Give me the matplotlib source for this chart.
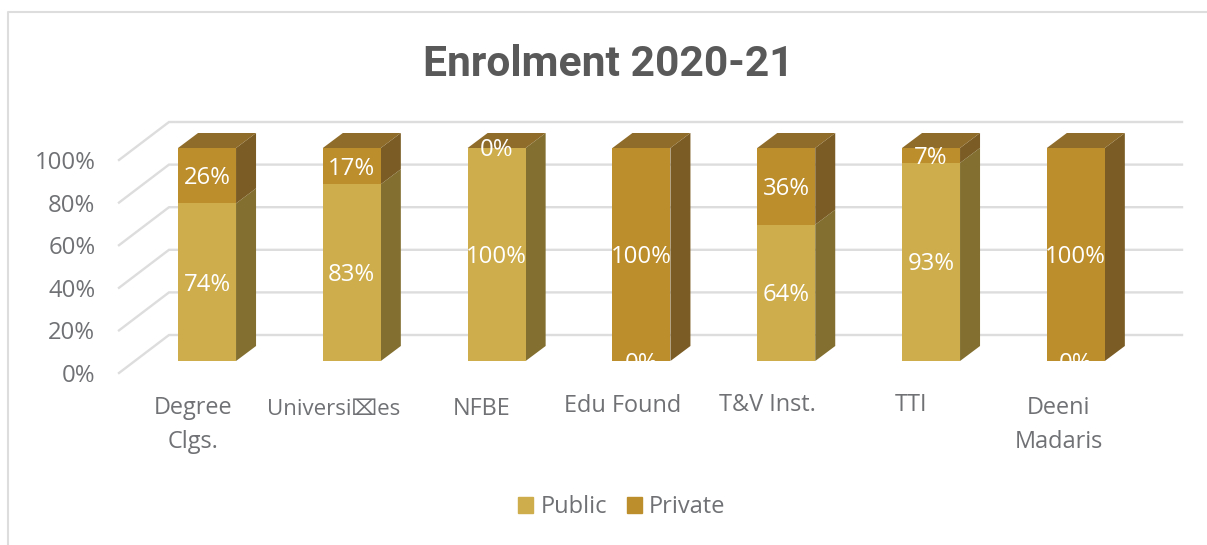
import matplotlib
matplotlib.use("Agg")
import matplotlib.pyplot as plt
from matplotlib.lines import Line2D
from matplotlib.patches import Patch, Rectangle

categories = ['Degree\nClgs.', 'Universi\u2327es', 'NFBE', 'Edu Found', 'T&V Inst.', 'TTI', 'Deeni\nMadaris']
public = [74, 83, 100, 0, 64, 93, 0]
private = [26, 17, 0, 100, 36, 7, 100]
ticks = [0, 20, 40, 60, 80, 100]
tick_labels = ['0%', '20%', '40%', '60%', '80%', '100%']

col_public = '#CDAD4C'
col_private = '#BC8E2C'
side_public = '#837030'
side_private = '#7A5C24'
top_col = '#8F6C2A'
grid_col = '#DDDDDD'
text_col = '#6F7174'

W, H = 1207, 545
plt.rcParams['font.family'] = ['Open Sans', 'DejaVu Sans']

fig = plt.figure(figsize=(W / 100, H / 100), dpi=100)
ax = fig.add_axes([119 / W, (H - 373) / H, 1013.6 / W, 213 / H])
ax.set_xlim(-0.608, 6.392)
ax.set_ylim(0, 100)
for s in ax.spines.values():
    s.set_visible(False)

# one category = 144.8 px, one percent = 2.13 px
px_x = 1 / 144.8
px_y = 1 / 2.13

# outer frame
fig.add_artist(Line2D([8 / W, 8 / W, 1], [0, 1 - 12 / H, 1 - 12 / H], color=grid_col, lw=1.5))

# gridlines on the floor and back wall
xl = ax.get_xlim()[0]
for t in ticks:
    ax.plot([xl, xl + 50 * px_x, xl + 1063 * px_x], [t, t + 38 * px_y, t + 38 * px_y],
            color=grid_col, lw=1.7, clip_on=False, zorder=1, solid_joinstyle='miter')

bar_w = 58 * px_x
dep_x = 20 * px_x
dep_y = 15 * px_y
base = 12 * px_y

for i in range(len(categories)):
    left = i - bar_w / 2
    right = i + bar_w / 2
    mid = base + public[i]
    end = mid + private[i]
    # side faces then top face
    ax.fill([right, right + dep_x, right + dep_x, right], [base, base + dep_y, mid + dep_y, mid],
            color=side_public, lw=0, zorder=2, clip_on=False)
    ax.fill([right, right + dep_x, right + dep_x, right], [mid, mid + dep_y, end + dep_y, end],
            color=side_private, lw=0, zorder=2, clip_on=False)
    ax.fill([left, left + dep_x, right + dep_x, right], [end, end + dep_y, end + dep_y, end],
            color=top_col, lw=0, zorder=2, clip_on=False)

x = list(range(len(categories)))
ax.bar(x, public, bar_w, bottom=base, color=col_public, zorder=3, clip_on=False)
ax.bar(x, private, bar_w, bottom=[base + p for p in public], color=col_private, zorder=3, clip_on=False)

# data labels, the floor cuts off the ones sitting on it
for i in range(len(categories)):
    for val, start in ((public[i], base), (private[i], base + public[i])):
        t = ax.text(i, start + val / 2 - 2.5 * px_y, '%d%%' % val, color='white', fontsize=17.2,
                    ha='center', va='center', zorder=4, clip_on=False)
        if val == 0 and start == base:
            t.set_clip_on(True)
            t.set_clip_path(Rectangle((i - 1, base), 2, 100, transform=ax.transData))

ax.set_yticks(ticks)
ax.set_yticklabels(tick_labels, fontsize=17.2, color=text_col)
ax.tick_params(axis='y', length=0, pad=17)
ax.set_xticks([])

# category labels sit left of the bars, not all on the same line
lab_dx = [-14, -18, -15, -19, -19, -20, -17]
lab_base = [448, 415, 415, 412, 411, 411, 448]
lab_size = [16.9, 16.0, 16.9, 16.9, 16.9, 16.9, 16.9]
for i, c in enumerate(categories):
    ax.annotate(c, (i, 0), xytext=(lab_dx[i] * 0.72, (373 - lab_base[i]) * 0.72), textcoords='offset points',
                ha='center', va='baseline', fontsize=lab_size[i], color=text_col,
                linespacing=1.55, annotation_clip=False)

fig.text(608 / W, 1 - 64 / H, 'Enrolment 2020-21', family='Roboto', weight='bold', fontsize=30.7,
         color='#595959', ha='center', va='center')

handles = [Patch(color=col_public, label='Public'), Patch(color=col_private, label='Private')]
fig.legend(handles=handles, loc='center', bbox_to_anchor=(622 / W, 1 - 507 / H), ncol=2, frameon=False,
           fontsize=17, labelcolor=text_col, handlelength=0.64, handleheight=0.64,
           handletextpad=0.3, columnspacing=0.85)

fig.savefig('out.png', dpi=100)
